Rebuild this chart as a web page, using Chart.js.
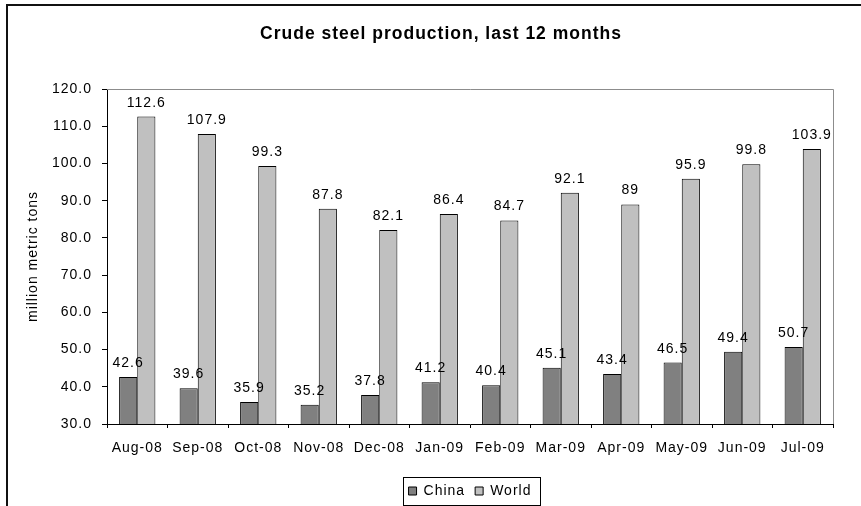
<!DOCTYPE html>
<html>
<head>
<meta charset="utf-8">
<script src="https://cdn.jsdelivr.net/npm/chart.js@4.4.1/dist/chart.umd.min.js"></script>
<style>
  html, body { margin: 0; padding: 0; background: #fff; }
  canvas { display: block; }
</style>
</head>
<body>
<canvas id="c" width="861" height="506"></canvas>
<script>
const months = ['Aug-08', 'Sep-08', 'Oct-08', 'Nov-08', 'Dec-08', 'Jan-09', 'Feb-09', 'Mar-09', 'Apr-09', 'May-09', 'Jun-09', 'Jul-09'];
const china = [42.6, 39.6, 35.9, 35.2, 37.8, 41.2, 40.4, 45.1, 43.4, 46.5, 49.4, 50.7];
const world = [112.6, 107.9, 99.3, 87.8, 82.1, 86.4, 84.7, 92.1, 89, 95.9, 99.8, 103.9];
const yMin = 30, yMax = 120, yStep = 10;
const chartTitle = 'Crude steel production, last 12 months';
const yTitle = 'million metric tons';

const FONT = '"Liberation Sans", Arial, sans-serif';
Chart.defaults.font.family = FONT;
Chart.defaults.color = '#000';

function spacing(chart) { chart.ctx.letterSpacing = '1px'; }

const framePlugin = {
  id: 'frame',
  afterInit: spacing,
  beforeLayout: spacing,
  afterLayout(chart) {
    if (chart.titleBlock) { chart.titleBlock.left += 24.5; chart.titleBlock.right += 24.5; }
  },
  beforeDraw(chart) {
    spacing(chart);
    const ctx = chart.ctx;
    ctx.save();
    ctx.fillStyle = '#fff';
    ctx.fillRect(0, 0, chart.width, chart.height);
    ctx.restore();
  },
  afterDatasetsDraw(chart) {
    const ctx = chart.ctx;
    ctx.save();
    ctx.font = '14px ' + FONT;
    ctx.fillStyle = '#000';
    ctx.textAlign = 'center';
    ctx.textBaseline = 'alphabetic';
    chart.data.datasets.forEach((ds, di) => {
      const meta = chart.getDatasetMeta(di);
      meta.data.forEach((el, i) => {
        ctx.fillText(String(ds.data[i]), el.x, el.y - 10);
      });
    });
    ctx.restore();
  },
  afterDraw(chart) {
    const ctx = chart.ctx;
    const a = chart.chartArea;
    ctx.save();
    ctx.strokeStyle = '#8c8c8c';
    ctx.lineWidth = 1;
    ctx.beginPath();
    ctx.moveTo(a.left, Math.round(a.top) + 0.5);
    ctx.lineTo(Math.round(a.right) + 0.5, Math.round(a.top) + 0.5);
    ctx.lineTo(Math.round(a.right) + 0.5, a.bottom);
    ctx.stroke();
    const hb = chart.legend.legendHitBoxes;
    if (hb && hb.length) {
      const l = Math.min(...hb.map(h => h.left)) - 6;
      const r = Math.max(...hb.map(h => h.left + h.width)) + 8;
      const cy = hb[0].top + hb[0].height / 2;
      ctx.strokeStyle = '#000';
      ctx.strokeRect(Math.round(l) + 0.5, Math.round(cy - 14) + 0.5, Math.round(r - l), 28);
    }
    ctx.strokeStyle = '#111';
    ctx.lineWidth = 2;
    ctx.beginPath();
    ctx.moveTo(7, chart.height + 2);
    ctx.lineTo(7, 5);
    ctx.lineTo(chart.width + 2, 5);
    ctx.stroke();
    ctx.restore();
  }
};

new Chart(document.getElementById('c'), {
  type: 'bar',
  data: {
    labels: months,
    datasets: [
      { label: 'China', data: china, backgroundColor: '#808080', borderColor: '#000', borderWidth: 1, categoryPercentage: 0.6, barPercentage: 1.0 },
      { label: 'World', data: world, backgroundColor: '#c0c0c0', borderColor: '#000', borderWidth: 1, categoryPercentage: 0.6, barPercentage: 1.0 }
    ]
  },
  options: {
    responsive: false,
    animation: false,
    devicePixelRatio: 1,
    layout: { padding: { left: 0, right: 28, top: 0, bottom: -2 } },
    plugins: {
      title: {
        display: true, text: chartTitle, color: '#000',
        font: { size: 17.5, weight: 'bold', family: FONT },
        padding: { top: 23.2, bottom: 44.8 }
      },
      legend: {
        position: 'bottom', fullSize: false,
        labels: { boxWidth: 8, boxHeight: 8, padding: 10, color: '#000', font: { size: 14, family: FONT } }
      },
      tooltip: { enabled: false }
    },
    scales: {
      x: {
        grid: { display: true, drawOnChartArea: false, drawTicks: true, tickLength: 4, color: '#000', offset: true },
        border: { color: '#000', width: 1 },
        ticks: { color: '#000', font: { size: 14, family: FONT }, padding: 12, maxRotation: 0, autoSkip: false },
        afterFit(s) { s.height = 50; }
      },
      y: {
        min: yMin, max: yMax,
        grid: { display: true, drawOnChartArea: false, drawTicks: true, tickLength: 5, color: '#000' },
        border: { color: '#000', width: 1 },
        ticks: { stepSize: yStep, color: '#000', font: { size: 14, family: FONT }, padding: 10, callback: v => Number(v).toFixed(1) },
        title: { display: true, text: yTitle, color: '#000', font: { size: 14, family: FONT }, padding: { top: 25, bottom: 0 } },
        afterFit(s) { s.width = 107; }
      }
    }
  },
  plugins: [framePlugin]
});
</script>
</body>
</html>
